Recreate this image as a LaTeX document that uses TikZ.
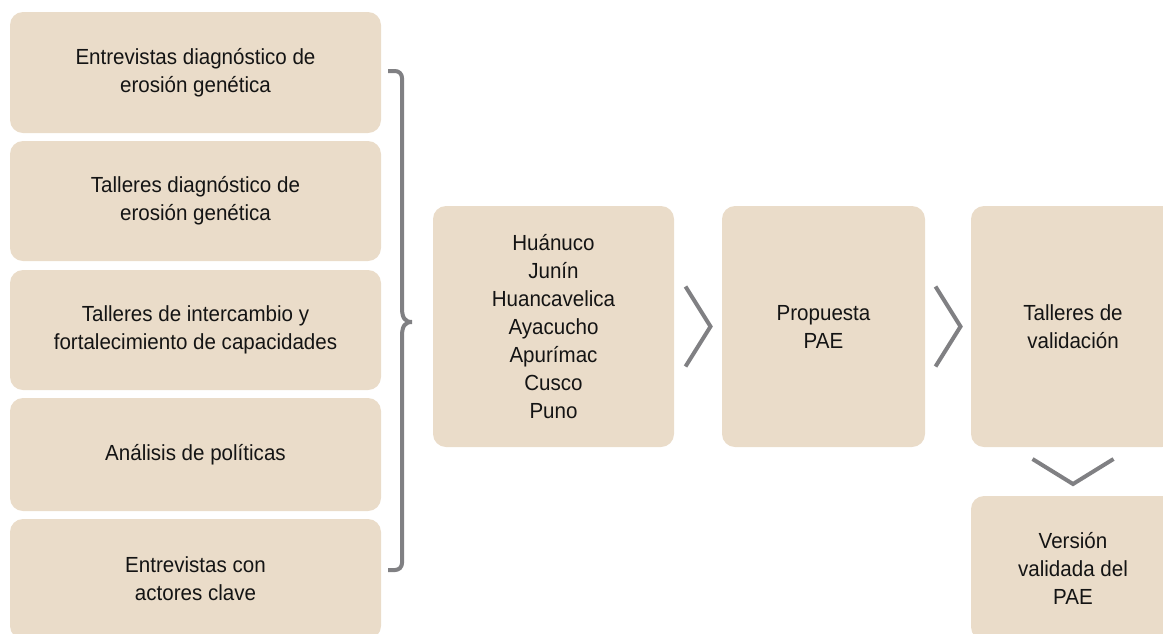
\documentclass[tikz,border=0pt]{standalone}
\usepackage{fontspec}
\setmainfont[FakeStretch=0.94]{Liberation Sans}
\usetikzlibrary{calc}
\definecolor{boxfill}{RGB}{234,220,201}
\definecolor{linegrey}{RGB}{128,128,131}
\definecolor{txt}{RGB}{20,20,20}
\begin{document}
\begin{tikzpicture}[x=0.75pt,y=-0.75pt,
  card/.style={fill=boxfill, draw=none, rounded corners=9.75pt, inner sep=0pt,
    align=center, text=txt, font=\fontsize{16.4pt}{21pt}\selectfont},
  leftcard/.style={card, minimum width=278.25pt},
  sepline/.style={draw=linegrey, line width=3pt}]
\path[use as bounding box] (0,0) rectangle (1163,633);
\clip (0,0) rectangle (1163,633);
% left column
\node[leftcard, minimum height=90.75pt] (l1) at (195.5,72.5) {Entrevistas diagnóstico de\\erosión genética};
\node[leftcard, minimum height=90pt] (l2) at (195.5,201) {Talleres diagnóstico de\\erosión genética};
\node[leftcard, minimum height=90pt] (l3) at (195.5,330) {Talleres de intercambio y\\fortalecimiento de capacidades};
\node[leftcard, minimum height=84.75pt] (l4) at (195.5,454.5) {Análisis de políticas};
\node[leftcard, minimum height=90pt] (l5) at (195.5,579) {Entrevistas con\\actores clave};
% brace
\draw[sepline] (388,71) -- (395,71) .. controls (399,71) and (402,74) .. (402,78)
  -- (402,308) .. controls (402,318) and (405,322) .. (412,322)
  .. controls (405,322) and (402,326) .. (402,336)
  -- (402,563) .. controls (402,567) and (399,570) .. (395,570) -- (388,570);
% flow
\node[card, minimum width=180.75pt, minimum height=180.75pt] (reg) at (553.5,326.5)
  {Huánuco\\Junín\\Huancavelica\\Ayacucho\\Apurímac\\Cusco\\Puno};
\node[card, minimum width=152.25pt, minimum height=180.75pt] (prop) at (823.5,326.5)
  {Propuesta\\PAE};
\node[card, minimum width=153pt, minimum height=180.75pt] (tall) at (1073,326.5)
  {Talleres de\\validación};
\node[card, minimum width=153pt, minimum height=108pt] (vers) at (1073,568)
  {Versión\\validada del\\PAE};
% chevrons
\coordinate (c1) at ($(reg.east)!0.5!(prop.west)$);
\coordinate (c2) at ($(prop.east)!0.5!(tall.west)$);
\coordinate (c3) at ($(tall.south)!0.5!(vers.north)$);
\draw[sepline] ($(c1)+(-12.5,-40)$) -- ($(c1)+(12.5,0)$) -- ($(c1)+(-12.5,40)$);
\draw[sepline] ($(c2)+(-12.5,-40)$) -- ($(c2)+(12.5,0)$) -- ($(c2)+(-12.5,40)$);
\draw[sepline] ($(c3)+(-40.5,-12.5)$) -- ($(c3)+(0,12.5)$) -- ($(c3)+(40.5,-12.5)$);
\end{tikzpicture}
\end{document}
